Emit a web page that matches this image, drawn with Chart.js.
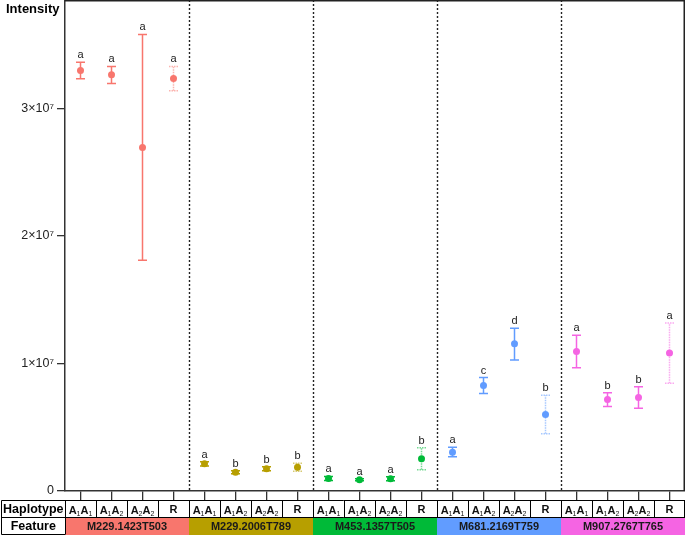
<!DOCTYPE html>
<html><head><meta charset="utf-8">
<script src="https://cdn.jsdelivr.net/npm/chart.js@4/dist/chart.umd.min.js"></script>
<style>html,body{margin:0;padding:0;background:#fff}#wrap{width:685px;height:535px}</style>
</head><body><div id="wrap"><canvas id="c" width="685" height="535"></canvas></div>
<script>
const features = ['M229.1423T503','M229.2006T789','M453.1357T505','M681.2169T759','M907.2767T765'];
const haplotypes = ['A1A1','A1A2','A2A2','R'];
const featureColors = ['#F8766D','#B79F00','#00BA38','#619CFF','#F564E3'];
const meanValues  = [3.298e7,3.264e7,2.694e7,3.235e7, 0.213e7,0.147e7,0.174e7,0.187e7, 0.098e7,0.088e7,0.096e7,0.252e7, 0.304e7,0.827e7,1.154e7,0.600e7, 1.093e7,0.717e7,0.733e7,1.083e7];
const lowerValues = [3.233e7,3.196e7,1.809e7,3.139e7, 0.197e7,0.136e7,0.158e7,0.155e7, 0.082e7,0.080e7,0.080e7,0.166e7, 0.268e7,0.764e7,1.028e7,0.448e7, 0.966e7,0.662e7,0.649e7,0.845e7];
const upperValues = [3.361e7,3.329e7,3.580e7,3.329e7, 0.229e7,0.158e7,0.190e7,0.218e7, 0.114e7,0.096e7,0.112e7,0.339e7, 0.343e7,0.889e7,1.276e7,0.751e7, 1.221e7,0.770e7,0.817e7,1.318e7];
const letters     = ['a','a','a','a', 'a','b','b','b', 'a','a','a','b', 'a','c','d','b', 'a','b','b','a'];
const yTicks = [0,1e7,2e7,3e7];
const yMax = 3.85e7;

const categories = features.flatMap(f => haplotypes.map(h => f + ' ' + h));
const pointColors = features.flatMap((f,i) => haplotypes.map(() => featureColors[i]));
const FONT = '"Liberation Sans", Arial, sans-serif';

function drawHaplo(ctx, text, cx, cy) {
  if (text === 'R') {
    ctx.font = 'bold 11px ' + FONT; ctx.textAlign = 'center'; ctx.textBaseline = 'middle';
    ctx.fillText('R', cx, cy + 0.5); return;
  }
  const segs = [];
  for (const ch of text) segs.push(/[0-9]/.test(ch) ? {t:ch, sub:true} : {t:ch, sub:false});
  let w = 0;
  segs.forEach(s => { ctx.font = (s.sub ? '7px ' : 'bold 11px ') + FONT; s.w = ctx.measureText(s.t).width; w += s.w; });
  let x = cx - w/2;
  ctx.textAlign = 'left'; ctx.textBaseline = 'alphabetic';
  segs.forEach(s => {
    ctx.font = (s.sub ? '7px ' : 'bold 11px ') + FONT;
    ctx.fillText(s.t, x, s.sub ? cy + 6.5 : cy + 4.5);
    x += s.w;
  });
}

const decor = {
  id: 'decor',
  beforeDatasetsDraw(chart) {
    const {ctx, chartArea: a, scales: {x, y}} = chart;
    ctx.save();
    ctx.strokeStyle = '#222'; ctx.lineWidth = 1.4; ctx.setLineDash([2, 2]);
    for (let g = 1; g < features.length; g++) {
      const px = Math.round((x.getPixelForValue(g*4 - 1) + x.getPixelForValue(g*4)) / 2) + 0.5;
      ctx.beginPath(); ctx.moveTo(px, a.top); ctx.lineTo(px, a.bottom); ctx.stroke();
    }
    for (let i = 0; i < meanValues.length; i++) {
      const px = x.getPixelForValue(i);
      const yl = y.getPixelForValue(lowerValues[i]);
      const yu = y.getPixelForValue(upperValues[i]);
      const isR = haplotypes[i % 4] === 'R';
      ctx.strokeStyle = pointColors[i];
      ctx.globalAlpha = isR ? 0.55 : 1;
      ctx.lineWidth = 1.5;
      ctx.setLineDash(isR ? [1.5, 1] : []);
      ctx.beginPath();
      ctx.moveTo(px, yl); ctx.lineTo(px, yu);
      ctx.moveTo(px - 4.5, yu); ctx.lineTo(px + 4.5, yu);
      ctx.moveTo(px - 4.5, yl); ctx.lineTo(px + 4.5, yl);
      ctx.stroke();
    }
    ctx.restore();
  },
  afterDraw(chart) {
    const {ctx, chartArea: a, scales: {x, y}} = chart;
    ctx.save();
    ctx.strokeStyle = '#222'; ctx.lineWidth = 1.5; ctx.setLineDash([]);
    ctx.beginPath(); ctx.moveTo(a.left, a.top + 0.75); ctx.lineTo(a.right - 0.75, a.top + 0.75); ctx.lineTo(a.right - 0.75, a.bottom); ctx.stroke();
    ctx.fillStyle = '#222'; ctx.font = '11px ' + FONT; ctx.textAlign = 'center'; ctx.textBaseline = 'alphabetic';
    for (let i = 0; i < letters.length; i++) {
      ctx.fillText(letters[i], x.getPixelForValue(i), y.getPixelForValue(upperValues[i]) - 4);
    }
    ctx.font = 'bold 13px ' + FONT; ctx.textAlign = 'left'; ctx.textBaseline = 'middle';
    ctx.fillStyle = '#000';
    ctx.fillText('Intensity', 6, 9);
    const step = x.getPixelForValue(1) - x.getPixelForValue(0);
    const r1 = 500.5, r2 = 517.5, r3 = 534.5, lx = 1.5;
    for (let g = 0; g < features.length; g++) {
      const x0 = x.getPixelForValue(g*4) - step/2;
      ctx.fillStyle = featureColors[g];
      ctx.fillRect(x0, r2, step*4, r3 - r2 + 1);
    }
    ctx.strokeStyle = '#000'; ctx.lineWidth = 1;
    ctx.beginPath();
    ctx.moveTo(lx, r1); ctx.lineTo(a.right, r1);
    ctx.moveTo(lx, r2); ctx.lineTo(a.right, r2);
    ctx.moveTo(lx, r3); ctx.lineTo(a.left, r3);
    ctx.moveTo(lx, r1); ctx.lineTo(lx, r3);
    ctx.moveTo(a.left + 0.5, r1); ctx.lineTo(a.left + 0.5, r3);
    for (let i = 1; i <= categories.length; i++) {
      const bx = Math.min(Math.round(x.getPixelForValue(i) - step/2) + 0.5, a.right - 0.5);
      ctx.moveTo(bx, r1); ctx.lineTo(bx, r2);
    }
    ctx.stroke();
    ctx.fillStyle = '#000';
    ctx.font = 'bold 12.5px ' + FONT; ctx.textAlign = 'center'; ctx.textBaseline = 'middle';
    ctx.fillText('Haplotype', (lx + a.left)/2, (r1 + r2)/2 + 0.5);
    ctx.fillText('Feature', (lx + a.left)/2, (r2 + r3)/2 + 0.5);
    ctx.fillStyle = '#111';
    for (let i = 0; i < categories.length; i++) {
      drawHaplo(ctx, haplotypes[i % 4], x.getPixelForValue(i), (r1 + r2)/2);
    }
    ctx.font = 'bold 11px ' + FONT; ctx.textAlign = 'center'; ctx.textBaseline = 'middle'; ctx.fillStyle = '#1a1a1a';
    for (let g = 0; g < features.length; g++) {
      const cx = (x.getPixelForValue(g*4) + x.getPixelForValue(g*4 + 3)) / 2;
      ctx.fillText(features[g], cx, (r2 + r3)/2 + 0.5);
    }
    ctx.restore();
  }
};

new Chart(document.getElementById('c'), {
  type: 'line',
  data: {
    labels: categories,
    datasets: [{
      data: meanValues,
      showLine: false,
      pointRadius: 3.5,
      pointHoverRadius: 3.5,
      pointBorderWidth: 0,
      pointBackgroundColor: pointColors,
      pointBorderColor: pointColors,
      clip: false
    }]
  },
  options: {
    responsive: false,
    animation: false,
    devicePixelRatio: 1,
    layout: { padding: 0, autoPadding: false },
    plugins: { legend: { display: false }, tooltip: { enabled: false } },
    scales: {
      x: {
        type: 'category',
        offset: true,
        grid: { display: true, drawOnChartArea: false, offset: false, tickLength: 9, color: '#333', lineWidth: 1.3 },
        border: { display: true, color: '#333', width: 1.5 },
        ticks: { display: false },
        afterFit(s) { s.height = 44; s.paddingLeft = 0; s.paddingRight = 0; }
      },
      y: {
        min: 0, max: yMax,
        afterBuildTicks(s) { s.ticks = yTicks.map(v => ({ value: v })); },
        grid: { display: true, drawOnChartArea: false, tickLength: 8, color: '#333', lineWidth: 1.3 },
        border: { display: true, color: '#333', width: 1.5 },
        ticks: {
          color: '#222', padding: 3,
          font: { family: FONT, size: 12.5 },
          callback: v => v === 0 ? '0' : (v / 1e7) + '×10⁷'
        },
        afterFit(s) { s.width = 65; s.paddingTop = 0; s.paddingBottom = 0; }
      }
    }
  },
  plugins: [decor]
});
</script>
</body></html>
